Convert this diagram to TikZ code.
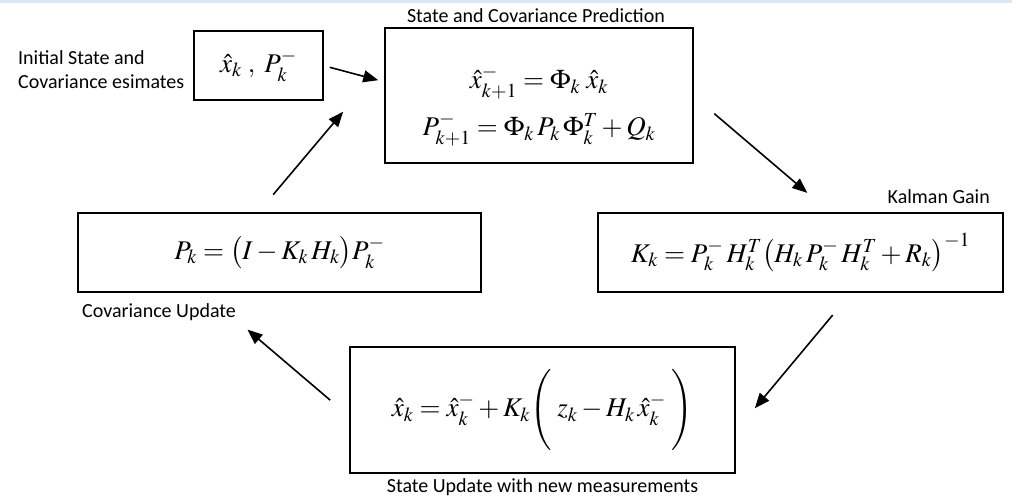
\documentclass[tikz,border=0pt]{standalone}
\usepackage{mathptmx}
\usepackage[no-math]{fontspec}
\setmainfont{Carlito}
\usepackage{tikz}
\usetikzlibrary{calc,arrows.meta}
\definecolor{band}{RGB}{221,230,244}

\begin{document}
\begin{tikzpicture}[
  x=1pt, y=-1pt,
  font=\fontsize{20}{24}\selectfont,
  stepbox/.style={
    rectangle, draw=black, line width=2.4pt,
    inner sep=0pt, outer sep=0pt,
    font=\fontsize{27}{31}\selectfont
  },
  flow/.style={-{Triangle[length=15pt,width=12pt]}, line width=1.6pt},
  caption/.style={inner sep=0pt, align=left}
]
\useasboundingbox (0,0) rectangle (1012,497);
\fill[band] (0,0) rectangle (1012,3);

% the five steps of the loop
\node[stepbox, minimum width=129, minimum height=69] (init) at (258.5,65.5)
  {$\hat{x}_k\ ,\ P_k^-$};
\node[stepbox, minimum width=308, minimum height=135, align=center] (pred) at (539,95.5)
  {\rule{0pt}{44pt}$\hat{x}^-_{k+1} = \Phi_k\;\hat{x}_k$\\[13pt]
   $P^-_{k+1} = \Phi_k\,P_k\,\Phi_k^T + Q_k$};
\node[stepbox, minimum width=405, minimum height=79] (gain) at (800.5,252.5)
  {$K_k = P_k^-\,H_k^T \bigl(H_k\,P_k^-\,H_k^T + R_k\bigr)^{-1}$};
\node[stepbox, minimum width=403, minimum height=79] (cov) at (279.5,252.5)
  {$P_k = \bigl(I - K_k\,H_k\bigr) P_k^-$};
\node[stepbox, minimum width=385, minimum height=126] (upd) at (542.5,410)
  {$\hat{x}_k = \hat{x}_k^- + K_k \Biggl(\; z_k - H_k\,\hat{x}_k^- \;\Biggr)$};

% step names
\node[caption, anchor=west] (initlbl) at (18,69.5)
  {Initial State and\\Covariance esimates};
\node[caption] (predlbl) at (536,16)
  {State and Covariance Prediction};
\node[caption, anchor=east] (gainlbl) at (990,197)
  {Kalman Gain};
\node[caption, anchor=west] (covlbl) at (82,312)
  {Covariance Update};
\node[caption] (updlbl) at (542.5,487)
  {State Update with new measurements};

\draw[flow, shorten <=7pt, shorten >=7pt]
  (init.east) -- ($(pred.north west)!0.4!(pred.south west)$);
\draw[flow, shorten <=28pt, shorten >=31pt]
  (pred.east) -- ($(gain.north west)!0.575!(gain.north east)$);
\draw[flow, shorten <=30pt, shorten >=31pt]
  ($(gain.south west)!0.627!(gain.south east)$) -- ($(upd.north east)!0.675!(upd.south east)$);
\draw[flow, shorten <=26pt, shorten >=58pt]
  ($(upd.north west)!0.556!(upd.south west)$) -- ($(cov.south west)!0.311!(cov.south east)$);
\draw[flow, shorten <=24pt, shorten >=65pt]
  ($(cov.north west)!0.446!(cov.north east)$) -- ($(pred.north west)!0.252!(pred.south west)$);
\end{tikzpicture}
\end{document}
